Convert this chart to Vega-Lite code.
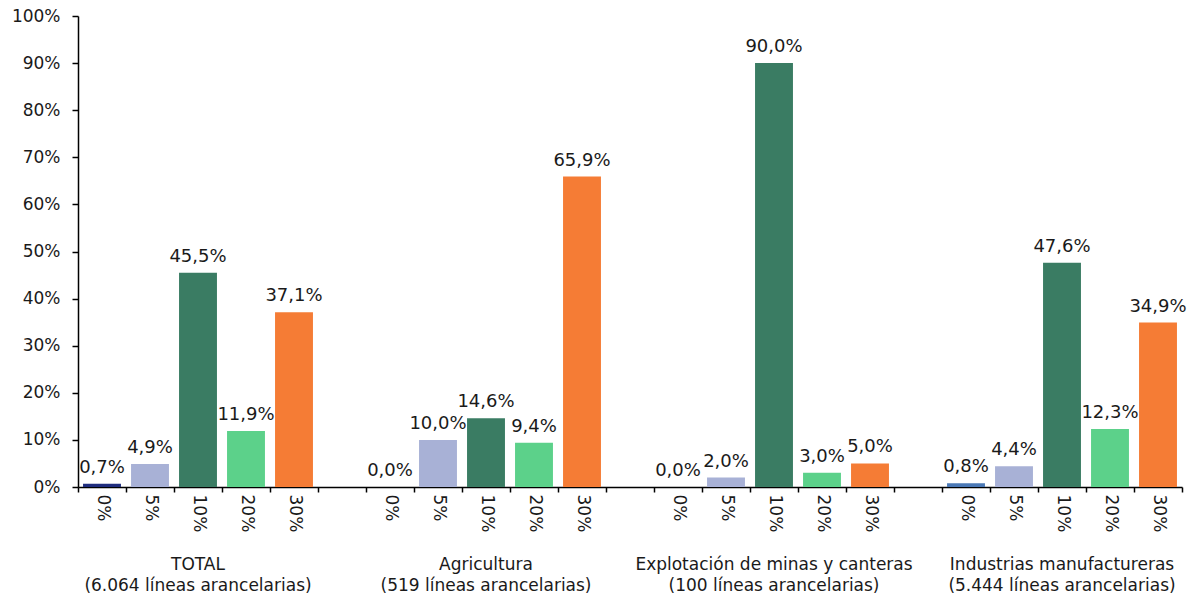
{
  "$schema": "https://vega.github.io/schema/vega-lite/v6.json",
  "autosize": {"type": "none"},
  "padding": {"left": 78, "top": 16, "right": 12, "bottom": 108},
  "width": 1104,
  "height": 471,
  "background": "white",
  "config": {
    "view": {"stroke": null},
    "font": "DejaVu Sans",
    "locale": {"number": {"decimal": ",", "thousands": ".", "grouping": [3], "currency": ["", " €"]}}
  },
  "datasets": {
    "bars": [
      {"key": "TOTAL|0%", "group": "TOTAL", "rate": "0%", "value": 0.007},
      {"key": "TOTAL|5%", "group": "TOTAL", "rate": "5%", "value": 0.049},
      {"key": "TOTAL|10%", "group": "TOTAL", "rate": "10%", "value": 0.455},
      {"key": "TOTAL|20%", "group": "TOTAL", "rate": "20%", "value": 0.119},
      {"key": "TOTAL|30%", "group": "TOTAL", "rate": "30%", "value": 0.371},
      {"key": "Agri|0%", "group": "Agricultura", "rate": "0%", "value": 0.0},
      {"key": "Agri|5%", "group": "Agricultura", "rate": "5%", "value": 0.1},
      {"key": "Agri|10%", "group": "Agricultura", "rate": "10%", "value": 0.146},
      {"key": "Agri|20%", "group": "Agricultura", "rate": "20%", "value": 0.094},
      {"key": "Agri|30%", "group": "Agricultura", "rate": "30%", "value": 0.659},
      {"key": "Minas|0%", "group": "Explotación de minas y canteras", "rate": "0%", "value": 0.0},
      {"key": "Minas|5%", "group": "Explotación de minas y canteras", "rate": "5%", "value": 0.02},
      {"key": "Minas|10%", "group": "Explotación de minas y canteras", "rate": "10%", "value": 0.9},
      {"key": "Minas|20%", "group": "Explotación de minas y canteras", "rate": "20%", "value": 0.03},
      {"key": "Minas|30%", "group": "Explotación de minas y canteras", "rate": "30%", "value": 0.05},
      {"key": "Ind|0%", "group": "Industrias manufactureras", "rate": "0%", "value": 0.008},
      {"key": "Ind|5%", "group": "Industrias manufactureras", "rate": "5%", "value": 0.044},
      {"key": "Ind|10%", "group": "Industrias manufactureras", "rate": "10%", "value": 0.476},
      {"key": "Ind|20%", "group": "Industrias manufactureras", "rate": "20%", "value": 0.123},
      {"key": "Ind|30%", "group": "Industrias manufactureras", "rate": "30%", "value": 0.349}
    ],
    "groups": [
      {"key": "TOTAL|10%", "label": "TOTAL\n(6.064 líneas arancelarias)"},
      {"key": "Agri|10%", "label": "Agricultura\n(519 líneas arancelarias)"},
      {"key": "Minas|10%", "label": "Explotación de minas y canteras\n(100 líneas arancelarias)"},
      {"key": "Ind|10%", "label": "Industrias manufactureras\n(5.444 líneas arancelarias)"}
    ]
  },
  "layer": [
    {
      "data": {"name": "bars"},
      "mark": {"type": "bar", "width": {"band": 0.79}},
      "encoding": {
        "x": {
          "field": "key",
          "type": "nominal",
          "sort": null,
          "scale": {
            "type": "band",
            "paddingInner": 0,
            "paddingOuter": 0,
            "domain": ["TOTAL|0%", "TOTAL|5%", "TOTAL|10%", "TOTAL|20%", "TOTAL|30%", "gap1",
                       "Agri|0%", "Agri|5%", "Agri|10%", "Agri|20%", "Agri|30%", "gap2",
                       "Minas|0%", "Minas|5%", "Minas|10%", "Minas|20%", "Minas|30%", "gap3",
                       "Ind|0%", "Ind|5%", "Ind|10%", "Ind|20%", "Ind|30%"]
          },
          "axis": {
            "title": null,
            "labelExpr": "isString(datum.value) && indexof(datum.value, '|') > 0 ? split(datum.value, '|')[1] : ''",
            "labelAngle": 90,
            "tickBand": "extent",
            "labelPadding": 2,
            "tickSize": 5,
            "tickColor": "#000000",
            "tickWidth": 1.5,
            "domainColor": "#000000",
            "domainWidth": 1.5,
            "labelFontSize": 17,
            "labelFont": "DejaVu Sans",
            "labelColor": "#1a1a1a",
            "labelOverlap": false,
            "grid": false
          }
        },
        "y": {
          "field": "value",
          "type": "quantitative",
          "scale": {"domain": [0, 1], "nice": false},
          "axis": {
            "title": null,
            "format": ".0%",
            "values": [0, 0.1, 0.2, 0.3, 0.4, 0.5, 0.6, 0.7, 0.8, 0.9, 1],
            "grid": false,
            "domainColor": "#000000",
            "domainWidth": 1.5,
            "tickColor": "#000000",
            "tickWidth": 1.5,
            "tickSize": 6,
            "labelPadding": 12,
            "labelFontSize": 17,
            "labelColor": "#1a1a1a",
            "labelFont": "DejaVu Sans"
          }
        },
        "color": {
          "field": "key",
          "type": "nominal",
          "legend": null,
          "scale": {
            "domain": ["TOTAL|0%", "TOTAL|5%", "TOTAL|10%", "TOTAL|20%", "TOTAL|30%",
                       "Agri|0%", "Agri|5%", "Agri|10%", "Agri|20%", "Agri|30%",
                       "Minas|0%", "Minas|5%", "Minas|10%", "Minas|20%", "Minas|30%",
                       "Ind|0%", "Ind|5%", "Ind|10%", "Ind|20%", "Ind|30%"],
            "range": ["#1f2d7e", "#a8b1d6", "#3a7c63", "#5cd18a", "#f57c35",
                      "#1f2d7e", "#a8b1d6", "#3a7c63", "#5cd18a", "#f57c35",
                      "#1f2d7e", "#a8b1d6", "#3a7c63", "#5cd18a", "#f57c35",
                      "#4a78b5", "#a8b1d6", "#3a7c63", "#5cd18a", "#f57c35"]
          }
        }
      }
    },
    {
      "data": {"name": "bars"},
      "mark": {"type": "text", "baseline": "bottom", "dy": -7, "fontSize": 18, "font": "DejaVu Sans", "color": "#1a1a1a"},
      "encoding": {
        "x": {"field": "key", "type": "nominal", "sort": null},
        "y": {"field": "value", "type": "quantitative"},
        "text": {"field": "value", "type": "quantitative", "format": ".1%"}
      }
    },
    {
      "data": {"name": "groups"},
      "mark": {"type": "text", "baseline": "top", "align": "center", "lineBreak": "\n", "lineHeight": 21, "fontSize": 17, "font": "DejaVu Sans", "color": "#1a1a1a"},
      "encoding": {
        "x": {"field": "key", "type": "nominal", "sort": null},
        "y": {"datum": -0.148, "type": "quantitative"},
        "text": {"field": "label", "type": "nominal"}
      }
    }
  ]
}
